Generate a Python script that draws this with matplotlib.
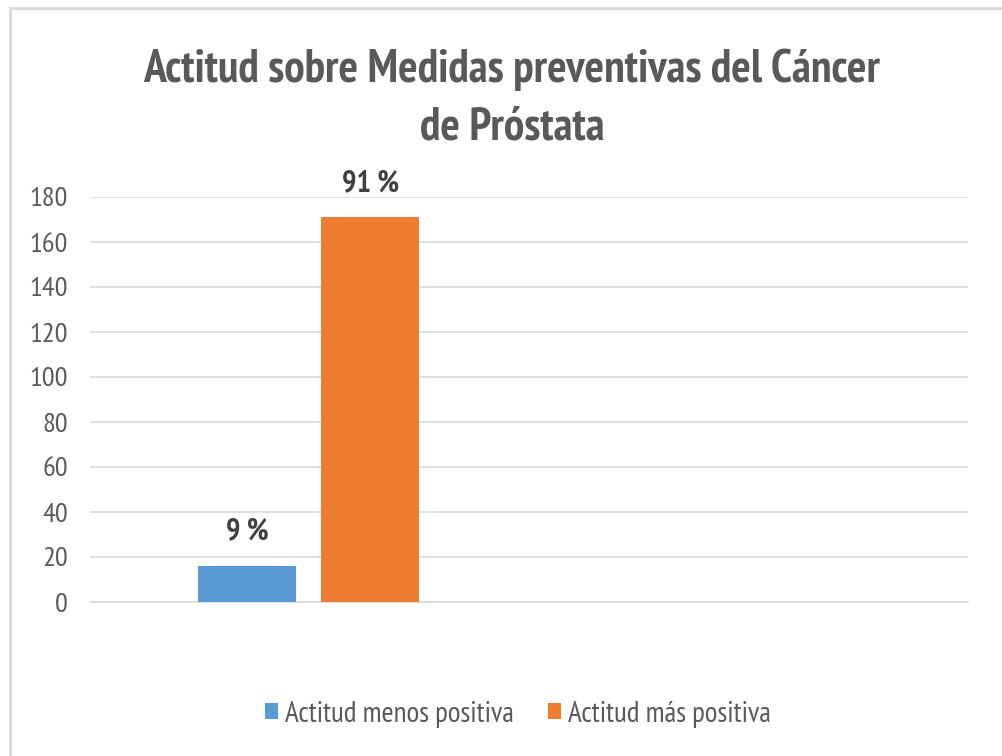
import matplotlib
matplotlib.use("Agg")
import matplotlib.pyplot as plt
from matplotlib.lines import Line2D

series = ["Actitud menos positiva", "Actitud más positiva"]
values = [16, 171]
labels = ["9 %", "91 %"]
colors = ["#5b9bd5", "#ed7d31"]
yticks = [0, 20, 40, 60, 80, 100, 120, 140, 160, 180]

# the original text is squeezed sideways, so a narrow face fits best
plt.rcParams["font.family"] = ["PT Sans Narrow", "Roboto Condensed", "DejaVu Sans"]

txt = "#595959"
fig = plt.figure(figsize=(10.02, 7.56), dpi=100)
ax = fig.add_axes([90 / 1002, 1 - 602 / 756, 878 / 1002, 405 / 756])

pos = [0.179, 0.319]
w = 0.1116
for p, v, c, s, lab in zip(pos, values, colors, series, labels):
    ax.bar(p, v, width=w, color=c, label=s, zorder=3)
    ax.text(p, v + 9, lab, ha="center", va="bottom", fontsize=22,
            fontweight="bold", color="#404040")

ax.set_xlim(0, 1)
ax.set_ylim(0, 180)
ax.set_yticks(yticks)
ax.set_xticks([])
ax.tick_params(axis="y", length=0, labelsize=20.5, labelcolor=txt, pad=16)
ax.yaxis.grid(True, color="#d9d9d9", linewidth=1.2, zorder=0)
for sp in ["top", "right", "left"]:
    ax.spines[sp].set_visible(False)
ax.spines["bottom"].set_color("#d9d9d9")
ax.spines["bottom"].set_linewidth(1.2)

fig.text(0.511, 1 - 70 / 756, "Actitud sobre Medidas preventivas del Cáncer",
         ha="center", va="center", fontsize=33, fontweight="bold", color=txt)
fig.text(0.511, 1 - 128 / 756, "de Próstata",
         ha="center", va="center", fontsize=33, fontweight="bold", color=txt)

ax.legend(loc="center", bbox_to_anchor=(0.4875, (602 - 714) / 405),
          ncol=2, frameon=False, fontsize=21, labelcolor=txt,
          handlelength=0.45, handleheight=0.45, handletextpad=0.25,
          columnspacing=1.15)

# chart frame (only top and left edges show in the crop)
fig.add_artist(Line2D([10 / 1002, 1], [1 - 8 / 756, 1 - 8 / 756],
                      color="#d9d9d9", linewidth=2))
fig.add_artist(Line2D([10 / 1002, 10 / 1002], [0, 1 - 8 / 756],
                      color="#d9d9d9", linewidth=2))

fig.savefig("out.png", dpi=100)
